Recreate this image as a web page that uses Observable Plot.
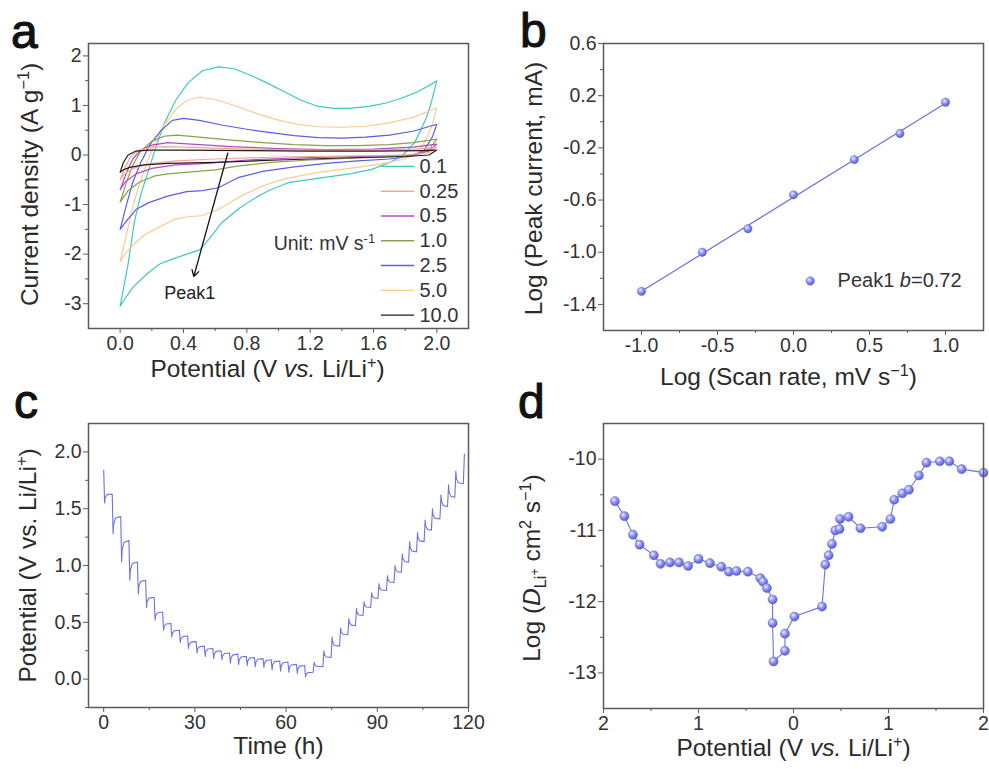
<!DOCTYPE html>
<html><head><meta charset="utf-8">
<script src="https://cdn.jsdelivr.net/npm/d3@7"></script>
<script src="https://cdn.jsdelivr.net/npm/@observablehq/plot@0.6"></script>
<style>
body{margin:0;background:#fff;}
#wrap{position:relative;width:989px;height:769px;background:#fff;overflow:hidden;font-family:"Liberation Sans",Arial,sans-serif;}
.panel{position:absolute;}
#letters{position:absolute;left:0;top:0;pointer-events:none;}
</style></head><body>
<div id="wrap">
  <div class="panel" id="pa" style="left:0;top:0"></div>
  <div class="panel" id="pb" style="left:490px;top:0"></div>
  <div class="panel" id="pc" style="left:0;top:390px"></div>
  <div class="panel" id="pd" style="left:490px;top:390px"></div>
  <svg id="letters" width="989" height="769" font-family="Liberation Sans, Arial, sans-serif">
    <defs>
      <radialGradient id="sphere" cx="0.38" cy="0.35" r="0.7">
        <stop offset="0" stop-color="#eceeff"/>
        <stop offset="0.45" stop-color="#9094f2"/>
        <stop offset="1" stop-color="#4d52cc"/>
      </radialGradient>
    </defs>
    <g fill="#111" stroke="#111" stroke-width="1.1" font-size="48">
      <text x="11" y="48">a</text>
      <text x="520" y="47">b</text>
      <text x="14" y="418">c</text>
      <text x="518" y="418">d</text>
    </g>
  </svg>
</div>
<script>
// ---------------- Panel a: CV curves (V, current density) ----------------
const cv_0_1 = [[0,-3.05],[0.05,-2.2],[0.09,-1.35],[0.13,-0.8],[0.17,-0.4],[0.22,0.1],[0.28,0.65],[0.35,1.1],[0.43,1.46],[0.52,1.7],[0.62,1.78],[0.72,1.74],[0.83,1.6],[0.93,1.45],[1.04,1.27],[1.14,1.11],[1.25,0.98],[1.35,0.94],[1.45,0.94],[1.57,0.98],[1.68,1.05],[1.78,1.15],[1.88,1.28],[1.95,1.4],[2.0,1.5],
  [1.96,1.0],[1.93,0.72],[1.86,0.25],[1.78,-0.02],[1.7,-0.15],[1.59,-0.29],[1.45,-0.38],[1.27,-0.46],[1.07,-0.55],[0.95,-0.7],[0.86,-0.85],[0.75,-1.08],[0.64,-1.37],[0.56,-1.7],[0.5,-1.92],[0.42,-2.0],[0.33,-2.1],[0.25,-2.2],[0.18,-2.37],[0.085,-2.65],[0.03,-2.9],[0,-3.05]];
const cv_5_0 = [[0,-2.15],[0.04,-1.6],[0.08,-1.05],[0.12,-0.6],[0.17,-0.15],[0.22,0.25],[0.28,0.62],[0.35,0.92],[0.42,1.1],[0.5,1.17],[0.6,1.12],[0.72,1.0],[0.85,0.85],[0.98,0.72],[1.12,0.62],[1.25,0.57],[1.4,0.56],[1.55,0.58],[1.7,0.65],[1.85,0.76],[2.0,0.95],
  [1.97,0.6],[1.93,0.3],[1.88,0.05],[1.8,-0.08],[1.65,-0.18],[1.45,-0.27],[1.25,-0.35],[1.05,-0.47],[0.9,-0.62],[0.75,-0.85],[0.62,-1.1],[0.52,-1.22],[0.42,-1.25],[0.34,-1.3],[0.25,-1.45],[0.15,-1.62],[0.08,-1.82],[0.03,-2.0],[0,-2.15]];
const cv_2_5 = [[0,-1.5],[0.04,-1.0],[0.08,-0.55],[0.13,-0.15],[0.19,0.22],[0.26,0.5],[0.33,0.7],[0.4,0.74],[0.5,0.7],[0.65,0.6],[0.8,0.52],[0.95,0.45],[1.1,0.39],[1.25,0.35],[1.4,0.34],[1.55,0.36],[1.7,0.4],[1.85,0.48],[2.0,0.62],
  [1.97,0.35],[1.92,0.1],[1.85,-0.02],[1.7,-0.08],[1.5,-0.12],[1.3,-0.17],[1.1,-0.24],[0.9,-0.33],[0.75,-0.45],[0.62,-0.66],[0.52,-0.72],[0.42,-0.74],[0.3,-0.83],[0.18,-0.96],[0.1,-1.1],[0.03,-1.37],[0,-1.5]];
const cv_1_0 = [[0,-0.95],[0.04,-0.55],[0.08,-0.2],[0.13,0.08],[0.2,0.28],[0.28,0.38],[0.36,0.4],[0.5,0.36],[0.7,0.3],[0.9,0.25],[1.1,0.21],[1.3,0.19],[1.5,0.19],[1.7,0.21],[1.85,0.25],[2.0,0.32],
  [1.96,0.15],[1.9,0.03],[1.75,-0.03],[1.5,-0.06],[1.2,-0.1],[0.95,-0.15],[0.75,-0.22],[0.6,-0.3],[0.45,-0.34],[0.3,-0.38],[0.22,-0.42],[0.12,-0.55],[0.05,-0.72],[0,-0.95]];
const cv_0_5 = [[0,-0.7],[0.04,-0.35],[0.08,-0.08],[0.13,0.1],[0.2,0.2],[0.3,0.25],[0.45,0.22],[0.7,0.17],[1.0,0.13],[1.3,0.11],[1.6,0.12],[1.85,0.16],[2.0,0.22],
  [1.95,0.08],[1.85,0.0],[1.5,-0.03],[1.1,-0.06],[0.8,-0.1],[0.55,-0.17],[0.35,-0.2],[0.2,-0.27],[0.1,-0.38],[0.03,-0.55],[0,-0.7]];
const cv_0_25 = [[0,-0.5],[0.03,-0.25],[0.07,-0.02],[0.12,0.1],[0.2,0.16],[0.3,0.17],[0.5,0.15],[0.8,0.12],[1.2,0.1],[1.6,0.1],[1.85,0.12],[2.0,0.16],
  [1.95,0.05],[1.8,0.0],[1.4,-0.02],[1.0,-0.04],[0.6,-0.08],[0.35,-0.12],[0.18,-0.18],[0.08,-0.27],[0.02,-0.4],[0,-0.5]];
const cv_10 = [[0,-0.35],[0.02,-0.15],[0.05,0.0],[0.1,0.08],[0.18,0.1],[0.4,0.1],[0.8,0.09],[1.2,0.08],[1.6,0.08],[1.9,0.09],[2.0,0.1],
  [1.95,0.0],[1.8,-0.03],[1.4,-0.06],[1.0,-0.1],[0.6,-0.15],[0.3,-0.17],[0.15,-0.2],[0.06,-0.25],[0.02,-0.3],[0,-0.35]];

const scanRates = ["0.1","0.25","0.5","1.0","2.5","5.0","10.0"];
const scanColors = ["#3fc9c0","#f0a896","#b848c4","#8aa24c","#5c5ce6","#f6cc94","#2a1818"];
const cvByRate = {"0.1":cv_0_1,"0.25":cv_0_25,"0.5":cv_0_5,"1.0":cv_1_0,"2.5":cv_2_5,"5.0":cv_5_0,"10.0":cv_10};
const drawOrder = ["0.1","5.0","2.5","1.0","0.5","0.25","10.0"];
const aXTicks = [0,0.4,0.8,1.2,1.6,2.0], aXMinor = [0.2,0.6,1.0,1.4,1.8];
const aYTicks = [-3,-2,-1,0,1,2], aYMinor = [-2.5,-1.5,-0.5,0.5,1.5];

// ---------------- Panel b ----------------
const logScan = [-1.0,-0.6,-0.3,0.0,0.4,0.7,1.0];
const logPeak = [-1.30,-1.00,-0.82,-0.56,-0.29,-0.09,0.15];
const bXTicks = [-1,-0.5,0,0.5,1], bXMinor = [-0.75,-0.25,0.25,0.75];
const bYTicks = [-1.4,-1.0,-0.6,-0.2,0.2,0.6], bYMinor = [-1.2,-0.8,-0.4,0,0.4];

// ---------------- Panel c: GITT ----------------
const disTime = [0,2.8,5.6,8.3,11.1,13.8,16.6,19.4,22.1,24.9,27.6,30.4,33.1,35.9,38.6,41.4,44.1,46.9,49.6,52.4,55.1,57.9,60.6,63.4,66.1];
const disRest = [1.84,1.63,1.43,1.22,1.03,0.87,0.72,0.59,0.49,0.43,0.38,0.33,0.29,0.27,0.25,0.23,0.22,0.20,0.19,0.18,0.17,0.16,0.15,0.13,0.12];
const disPulse = [1.55,1.28,1.03,0.87,0.75,0.63,0.52,0.43,0.37,0.32,0.27,0.23,0.20,0.18,0.17,0.14,0.13,0.12,0.11,0.10,0.08,0.07,0.06,0.05,0.02];
const chgTime = [68.9,72.1,74.8,77.6,80.3,82.8,85.3,87.8,90.2,93.0,95.5,97.9,100.3,102.9,105.4,107.8,110.6,113.1,115.5,118.3];
const chgRest = [0.06,0.11,0.19,0.29,0.39,0.47,0.56,0.63,0.71,0.78,0.85,0.94,1.03,1.12,1.21,1.31,1.41,1.52,1.60,1.72];
const chgPulse = [0.15,0.25,0.37,0.45,0.53,0.62,0.68,0.76,0.84,0.91,1.00,1.10,1.21,1.29,1.40,1.50,1.62,1.71,1.83,1.98];
const cXTicks = [0,30,60,90,120], cXMinor = [15,45,75,105];
const cYTicks = [0,0.5,1.0,1.5,2.0], cYMinor = [-0.25,0.25,0.75,1.25,1.75];

// ---------------- Panel d: diffusion coefficient ----------------
// position: negative = discharge (left half, labelled by |V|), positive = charge
const dPos = [-1.88,-1.78,-1.69,-1.62,-1.47,-1.40,-1.30,-1.205,-1.11,-1.00,-0.88,-0.76,-0.68,-0.60,-0.48,-0.35,-0.32,-0.28,-0.22,-0.22,-0.21,-0.09,-0.09,0.01,0.30,0.335,0.37,0.405,0.44,0.485,0.49,0.58,0.705,0.934,1.02,1.06,1.145,1.215,1.32,1.40,1.54,1.64,1.77,2.0];
const dLogD = [-10.59,-10.80,-11.06,-11.20,-11.35,-11.47,-11.45,-11.45,-11.50,-11.40,-11.46,-11.51,-11.58,-11.57,-11.58,-11.67,-11.72,-11.81,-11.97,-12.30,-12.84,-12.69,-12.45,-12.21,-12.07,-11.48,-11.35,-11.19,-11.00,-10.98,-10.84,-10.81,-10.97,-10.95,-10.84,-10.57,-10.48,-10.43,-10.23,-10.05,-10.03,-10.03,-10.14,-10.19];
const dXTicks = [-2,-1,0,1,2], dXMinor = [-1.5,-0.5,0.5,1.5];
const dYTicks = [-13,-12,-11,-10], dYMinor = [-12.5,-11.5,-10.5];

// ---------------- helpers ----------------
const FONT = "Liberation Sans, Arial, sans-serif";
const baseStyle = {fontFamily: FONT, fontSize: "19.5px", color: "#333", background: "white", overflow: "visible"};
const frameColor = "#5a5a5a";
const blue = "#6d71e3";
const TFS = 24.5; // axis title font size

function axes(xt, xm, yt, ym, xf, yf) {
  return [
    Plot.axisX({ticks: xt, tickSize: 5, tickPadding: 3, tickFormat: xf, label: null, stroke: frameColor}),
    Plot.axisX({ticks: xm, tickSize: 3, tickFormat: () => "", label: null, stroke: frameColor}),
    Plot.axisY({ticks: yt, tickSize: 5, tickPadding: 2, tickFormat: yf, label: null, stroke: frameColor}),
    Plot.axisY({ticks: ym, tickSize: 3, tickFormat: () => "", label: null, stroke: frameColor}),
    Plot.frame({stroke: frameColor, strokeWidth: 1.5})
  ];
}
function titles(xt, yt, o) {
  return [
    Plot.text([xt], {frameAnchor: "bottom", text: d => d, textAnchor: "middle", lineAnchor: "middle", dx: o.xdx, dy: o.xdy, fontSize: TFS, fill: "#2a2a2a"}),
    Plot.text([yt], {frameAnchor: "left", text: d => d, textAnchor: "middle", lineAnchor: "middle", rotate: -90, dx: o.ydx, dy: o.ydy, fontSize: TFS, fill: "#2a2a2a"})
  ];
}
function richHTML(parts, fs) {
  let out = "", off = 0;
  for (const p of parts) {
    let kind = "n", t = p;
    if (Array.isArray(p)) [kind, t] = p;
    const target = kind === "sup" ? -0.4 * fs : kind === "sub" ? 0.22 * fs : kind === "subsup" ? -0.05 * fs : 0;
    const dy = target - off; off = target;
    const attrs = [];
    if (dy) attrs.push(`dy="${dy.toFixed(2)}"`);
    if (kind === "sup" || kind === "sub") attrs.push(`font-size="${(0.66 * fs).toFixed(1)}"`);
    if (kind === "subsup") attrs.push(`font-size="${(0.5 * fs).toFixed(1)}"`);
    if (kind === "i") attrs.push(`font-style="italic"`);
    out += `<tspan ${attrs.join(" ")}>${t}</tspan>`;
  }
  return out;
}
function setRich(svg, content, parts, fs) {
  for (const el of svg.querySelectorAll("text")) {
    if (el.textContent === content) el.innerHTML = richHTML(parts, fs);
  }
}

// ---------------- Panel a ----------------
const cvRows = drawOrder.flatMap(r => cvByRate[r].map(([V, I]) => ({rate: r, V, I, color: scanColors[scanRates.indexOf(r)]})));
const legendRows = scanRates.map((r, i) => ({label: r, color: scanColors[i], y: -0.23 - i * 0.5}));
const peakArrow = [{x1: 0.68, y1: 0.04, x2: 0.465, y2: -2.45}];
const peakLabel = [{x: 0.44, y: -2.78, text: "Peak1"}];
const unitLabel = [{x: 1.61, y: -1.8, text: "Unit: mV s-1"}];

const fa = Plot.plot({
  width: 490, height: 390, marginLeft: 88, marginRight: 22, marginTop: 43, marginBottom: 62,
  style: baseStyle,
  x: {domain: [-0.2, 2.2]}, y: {domain: [-3.5, 2.25]}, color: {type: "identity"},
  marks: [
    Plot.line(cvRows, {x: "V", y: "I", z: "rate", stroke: "color", strokeWidth: 1.2}),
    Plot.arrow(peakArrow, {x1: "x1", y1: "y1", x2: "x2", y2: "y2", stroke: "#151515", strokeWidth: 1.3, headLength: 8}),
    Plot.text(peakLabel, {x: "x", y: "y", text: "text", fontSize: 18, fill: "#222"}),
    Plot.ruleY(legendRows, {y: "y", x1: 1.65, x2: 1.86, stroke: "color", strokeWidth: 1.4}),
    Plot.text(legendRows, {x: 1.89, y: "y", text: "label", textAnchor: "start", fontSize: 20, fill: "#333"}),
    Plot.text(unitLabel, {x: "x", y: "y", text: "text", textAnchor: "end", fontSize: 19.5, fill: "#333"}),
    ...axes(aXTicks, aXMinor, aYTicks, aYMinor, d => d.toFixed(1), d => String(d)),
    ...titles("Potential (V vs. Li/Li+)", "Current density (A g-1)", {xdx: -11, xdy: 41, ydx: -58, ydy: -1.5})
  ]
});
setRich(fa, "Potential (V vs. Li/Li+)", ["Potential (V ", ["i", "vs."], " Li/Li", ["sup", "+"], ")"], TFS);
setRich(fa, "Current density (A g-1)", ["Current density (A g", ["sup", "−1"], ")"], TFS);
setRich(fa, "Unit: mV s-1", ["Unit: mV s", ["sup", "-1"]], 19.5);
document.getElementById("pa").append(fa);

// ---------------- Panel b ----------------
const bRows = logScan.map((x, i) => ({x, y: logPeak[i]}));
const bLegendDot = [{x: 0.11, y: -1.22}];
const bLegendText = [{x: 0.29, y: -1.22, text: "Peak1 b=0.72"}];
const fb = Plot.plot({
  width: 499, height: 390, marginLeft: 113, marginRight: 6, marginTop: 43, marginBottom: 60,
  style: baseStyle,
  x: {domain: [-1.25, 1.25]}, y: {domain: [-1.6, 0.6]},
  marks: [
    Plot.linearRegressionY(bRows, {x: "x", y: "y", stroke: blue, strokeWidth: 1.2, ci: 0}),
    Plot.dot(bRows, {x: "x", y: "y", r: 4.2, fill: "url(#sphere)", stroke: "#5a5ed0", strokeWidth: 0.4}),
    Plot.dot(bLegendDot, {x: "x", y: "y", r: 4.2, fill: "url(#sphere)", stroke: "#5a5ed0", strokeWidth: 0.4}),
    Plot.text(bLegendText, {x: "x", y: "y", text: "text", textAnchor: "start", fontSize: 20, fill: "#333"}),
    ...axes(bXTicks, bXMinor, bYTicks, bYMinor, d => d.toFixed(1), d => d.toFixed(1)),
    ...titles("Log (Scan rate, mV s-1)", "Log (Peak current, mA)", {xdx: -5, xdy: 47, ydx: -69, ydy: 1.5})
  ]
});
setRich(fb, "Log (Scan rate, mV s-1)", ["Log (Scan rate, mV s", ["sup", "−1"], ")"], TFS);
setRich(fb, "Peak1 b=0.72", ["Peak1 ", ["i", "b"], "=0.72"], 20);
document.getElementById("pb").append(fb);

// ---------------- Panel c ----------------
const cRows = [];
disTime.forEach((t, k) => {
  const nextT = k + 1 < disTime.length ? disTime[k + 1] : chgTime[0];
  const nextRest = k + 1 < disRest.length ? disRest[k + 1] : chgRest[0];
  cRows.push({t, v: disRest[k]});
  cRows.push({t: t + 0.3, v: disPulse[k]});
  cRows.push({t: t + 0.45, v: nextRest - 0.45 * (nextRest - disPulse[k])});
  cRows.push({t: t + 1.1, v: nextRest - 0.08 * (nextRest - disPulse[k])});
  cRows.push({t: nextT, v: nextRest});
});
chgTime.forEach((t, k) => {
  cRows.push({t, v: chgRest[k]});
  cRows.push({t: t + 0.35, v: chgPulse[k]});
  if (k + 1 < chgTime.length) {
    const nextRest = chgRest[k + 1];
    cRows.push({t: t + 0.5, v: nextRest + 0.45 * (chgPulse[k] - nextRest)});
    cRows.push({t: t + 1.1, v: nextRest + 0.08 * (chgPulse[k] - nextRest)});
  }
});
const fc = Plot.plot({
  width: 490, height: 379, marginLeft: 88, marginRight: 22, marginTop: 33, marginBottom: 62,
  style: baseStyle,
  x: {domain: [-5, 120]}, y: {domain: [-0.25, 2.25]},
  marks: [
    Plot.line(cRows, {x: "t", y: "v", stroke: blue, strokeWidth: 1.1}),
    ...axes(cXTicks, cXMinor, cYTicks, cYMinor, d => String(d), d => d.toFixed(1)),
    ...titles("Time (h)", "Potential (V vs. Li/Li+)", {xdx: 0, xdy: 39, ydx: -60, ydy: 0})
  ]
});
setRich(fc, "Potential (V vs. Li/Li+)", ["Potential (V vs. Li/Li", ["sup", "+"], ")"], TFS);
document.getElementById("pc").append(fc);

// ---------------- Panel d ----------------
const dRows = dPos.map((u, i) => ({u, y: dLogD[i]}));
const fd = Plot.plot({
  width: 499, height: 379, marginLeft: 113, marginRight: 6, marginTop: 33, marginBottom: 61,
  style: baseStyle,
  x: {domain: [-2, 2]}, y: {domain: [-13.5, -9.5]},
  marks: [
    Plot.line(dRows, {x: "u", y: "y", stroke: blue, strokeWidth: 1.1}),
    Plot.dot(dRows, {x: "u", y: "y", r: 4.6, fill: "url(#sphere)", stroke: "#5a5ed0", strokeWidth: 0.4}),
    ...axes(dXTicks, dXMinor, dYTicks, dYMinor, d => String(Math.abs(d)), d => String(d)),
    ...titles("Potential (V vs. Li/Li+)", "Log (D Li+ cm2 s-1)", {xdx: 0, xdy: 40, ydx: -71, ydy: 2})
  ]
});
setRich(fd, "Potential (V vs. Li/Li+)", ["Potential (V ", ["i", "vs."], " Li/Li", ["sup", "+"], ")"], TFS);
setRich(fd, "Log (D Li+ cm2 s-1)", ["Log (", ["i", "D"], ["sub", "Li"], ["subsup", "+"], " cm", ["sup", "2"], " s", ["sup", "−1"], ")"], TFS);
document.getElementById("pd").append(fd);
</script>
</body></html>
